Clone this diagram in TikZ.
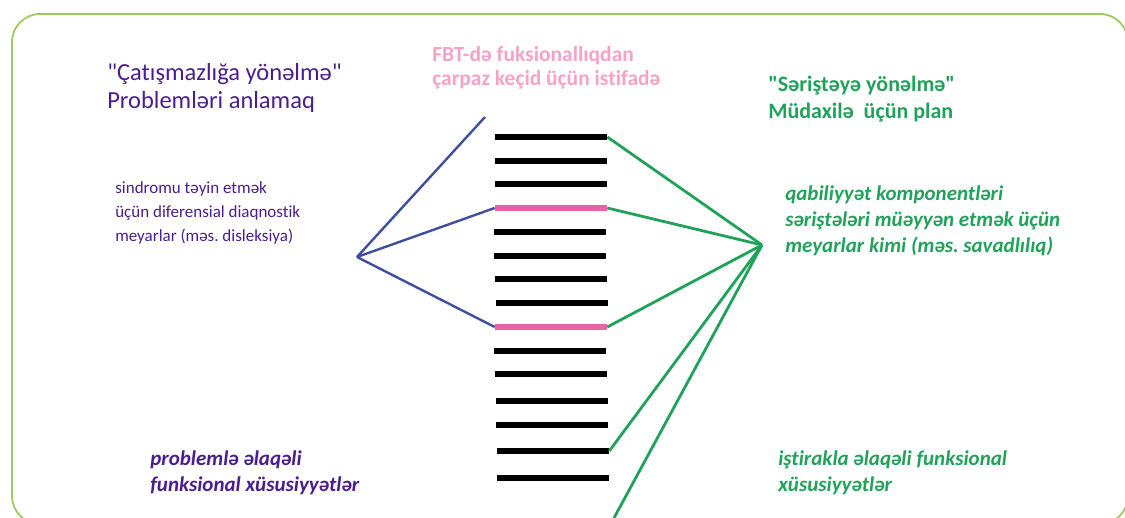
\documentclass[tikz,border=0pt]{standalone}
\usepackage{fontspec}
\setmainfont{Carlito}[Ligatures={TeXOff,CommonOff}]
\usetikzlibrary{positioning}
\definecolor{framegreen}{HTML}{9CCB5E}
\definecolor{deficitpurple}{HTML}{4A1E8E}
\definecolor{linkblue}{HTML}{3E4FA0}
\definecolor{linkgreen}{HTML}{21A25A}
\definecolor{barpink}{HTML}{EA62A6}
\definecolor{headpink}{HTML}{F6A2C8}
\frenchspacing

\begin{document}
\begin{tikzpicture}[x=1pt,y=-1pt,semithick]
 \tikzstyle{bar}=[fill=black, inner sep=0pt, minimum width=112pt, minimum height=6pt]
 \tikzstyle{pinkbar}=[bar, fill=barpink]
 \tikzstyle{bluelink}=[draw=linkblue, line width=2.4pt]
 \tikzstyle{greenlink}=[draw=linkgreen, line width=2.8pt]
 \tikzstyle{txt}=[anchor=base west, align=left, inner sep=0pt]
 \useasboundingbox (0,0) rectangle (1125,518);
 \clip (0,0) rectangle (1125,518);
 \draw[framegreen, line width=1.8pt, rounded corners=28pt] (12,14) rectangle (1128,524);

 % headings (anchor = baseline of last line)
 \node[txt, text=deficitpurple, font=\fontsize{24.5}{28}\selectfont] (deficit) at (107,109)
   {"Çatışmazlığa yönəlmə"\\Problemləri anlamaq};
 \node[txt, text=headpink, font=\fontsize{21.5}{24}\selectfont\bfseries] (crosswalk) at (432,86)
   {FBT-də fuksionallıqdan\\çarpaz keçid üçün istifadə};
 \node[txt, text=linkgreen, font=\fontsize{22}{27}\selectfont\bfseries] (strength) at (768,119)
   {"Səriştəyə yönəlmə"\\Müdaxilə\ \ üçün plan};

 % side texts
 \node[txt, text=deficitpurple, font=\fontsize{17}{24}\selectfont] (syndrome) at (115,242)
   {sindromu təyin etmək\\üçün diferensial diaqnostik\\meyarlar (məs. disleksiya)};
 \node[txt, text=linkgreen, font=\fontsize{21}{26}\selectfont\bfseries\itshape] (ability) at (785,253)
   {qabiliyyət komponentləri\\səriştələri müəyyən etmək üçün\\meyarlar kimi (məs. savadlılıq)};
 \node[txt, text=deficitpurple, font=\fontsize{21}{25}\selectfont\bfseries\itshape] (problem) at (150,491)
   {problemlə əlaqəli\\funksional xüsusiyyətlər};
 \node[txt, text=linkgreen, font=\fontsize{21}{25}\selectfont\bfseries\itshape] (participation) at (778,491)
   {iştirakla əlaqəli funksional\\xüsusiyyətlər};

 % bars
 \foreach \i/\x/\y/\s in {1/551/137/bar, 2/551/161/bar, 3/551/184/bar, 4/551/208/pinkbar,
   5/550/232/bar, 6/550/256/bar, 7/551/279/bar, 8/552/303/bar, 9/551/327/pinkbar,
   10/550/351/bar, 11/551/374/bar, 12/552/401/bar, 13/552/425/bar, 14/553/451/bar, 15/553/478/bar}
   \node[\s] (b\i) at (\x,\y) {};

 \coordinate (bluehub) at (357,257);
 \coordinate (bluetop) at (485,117);
 \coordinate (greenhub) at (762,245);
 \coordinate (greenend) at (614,518);

 \path[bluelink] (bluehub) edge (bluetop)
                           edge (b4.west)
                           edge (b9.west);
 \path[greenlink] (greenhub) edge (b1.east)
                             edge (b4.east)
                             edge (b9.east)
                             edge (b14.east)
                             edge (greenend);
\end{tikzpicture}
\end{document}
